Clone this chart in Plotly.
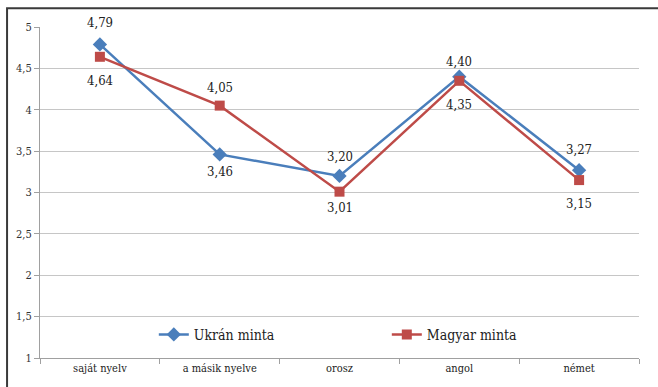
import plotly.graph_objects as go

# Language attitude scores by sample
categories = ["saját nyelv", "a másik nyelve", "orosz", "angol", "német"]
ukran = [4.79, 3.46, 3.20, 4.40, 3.27]
magyar = [4.64, 4.05, 3.01, 4.35, 3.15]
y_ticks = [1, 1.5, 2, 2.5, 3, 3.5, 4, 4.5, 5]

BLUE = "#4A7EBB"
RED = "#BE4B48"
SERIF = "DejaVu Serif Condensed, DejaVu Serif"

# vertical label offsets (pixels) for each series' value labels
ukran_shift = [22, -17, 19, 15, 21]
magyar_shift = [-24, 18, -16, -24, -23]


def fmt(v):
    return f"{v:.2f}".replace(".", ",")


fig = go.Figure()
fig.add_trace(go.Scatter(
    x=categories, y=ukran, mode="lines+markers", name="Ukrán minta",
    line=dict(color=BLUE, width=2.5),
    marker=dict(symbol="diamond", size=11, color=BLUE),
))
fig.add_trace(go.Scatter(
    x=categories, y=magyar, mode="lines+markers", name="Magyar minta",
    line=dict(color=RED, width=2.5),
    marker=dict(symbol="square", size=10, color=RED),
))

annotations = []
for vals, shifts in ((ukran, ukran_shift), (magyar, magyar_shift)):
    for c, v, s in zip(categories, vals, shifts):
        annotations.append(dict(
            x=c, y=v, xref="x", yref="y", text=fmt(v), showarrow=False,
            yshift=s, font=dict(family=SERIF, size=13, color="#222222"),
        ))

fig.update_layout(
    width=658, height=387,
    margin=dict(l=40, r=19, t=27, b=27),
    paper_bgcolor="white", plot_bgcolor="white",
    separators=", ",
    font=dict(family=SERIF),
    showlegend=True,
    legend=dict(
        orientation="h", x=0.19, y=0.07, xanchor="left", yanchor="middle",
        bgcolor="rgba(0,0,0,0)", entrywidth=188, entrywidthmode="pixels",
        font=dict(family=SERIF, size=14, color="#222222"),
        itemwidth=30,
    ),
    annotations=annotations,
    shapes=[dict(
        type="path", xref="paper", yref="paper",
        path="M -0.055 -0.2 L -0.055 1.057 L 1.2 1.057",
        line=dict(color="#3a3a3a", width=2), layer="above",
    )],
)
fig.update_xaxes(
    type="category", range=[-0.5, 4.5], tickson="boundaries",
    ticks="outside", ticklen=5, tickcolor="#a0a0a0",
    showline=True, linecolor="#a0a0a0", linewidth=1,
    showgrid=False,
    tickfont=dict(family=SERIF, size=11, color="#222222"),
)
fig.update_yaxes(
    range=[1, 5], tickvals=y_ticks,
    ticks="outside", ticklen=5, tickcolor="#a0a0a0",
    showline=True, linecolor="#a0a0a0", linewidth=1,
    showgrid=True, gridcolor="#c6c6c6", gridwidth=1,
    zeroline=False,
    tickfont=dict(family=SERIF, size=11, color="#333333"),
)

fig.write_html("out.html")
